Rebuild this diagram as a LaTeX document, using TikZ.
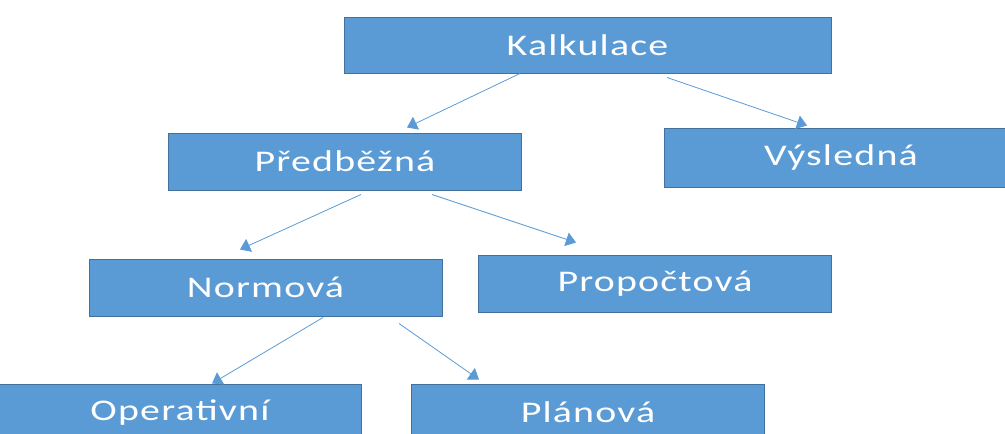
\documentclass[tikz,border=0pt]{standalone}
\usepackage{fontspec}
\newfontfamily\boxfont[FakeStretch=1.33,LetterSpace=4]{Carlito}
\usetikzlibrary{arrows.meta}
\definecolor{boxfill}{HTML}{5B9BD5}
\definecolor{boxline}{HTML}{41719C}
\definecolor{arrowc}{HTML}{5B9BD5}
\tikzset{
  box/.style={draw=boxline, line width=1pt, fill=boxfill, text=white,
    font=\boxfont\fontsize{30}{36}\selectfont, inner sep=0pt,
    minimum width=353pt, minimum height=57pt, anchor=center},
  arr/.style={draw=arrowc, line width=0.8pt,
    -{Triangle[length=10pt,width=14pt]}},
}
\begin{document}
\begin{tikzpicture}[x=1pt,y=-1pt]
\useasboundingbox (0,0) rectangle (1005,434);
\clip (0,0) rectangle (1005,434);
% hierarchy of costing types
\node[box, minimum width=487pt, minimum height=56pt] (kalk) at (587.5,45) {Kalkulace};
\node[box] (pred) at (345,161.5) {Předběžná};
\node[box, minimum height=59pt] (vys) at (841,157.5) {Výsledná};
\node[box] (norm) at (265.5,287.5) {Normová};
\node[box] (prop) at (655,283.5) {Propočtová};
\node[box, minimum width=362pt] (oper) at (180,412.5) {Operativní};
\node[box] (plan) at (588,412.5) {Plánová};
% connectors
\draw[arr] ([xshift=-67.5pt]kalk.south) -- ([xshift=62pt,yshift=5pt]pred.north);
\draw[arr] ([xshift=79.5pt,yshift=-4pt]kalk.south) -- ([xshift=-34pt,yshift=2pt]vys.north);
\draw[arr] ([xshift=16pt,yshift=-4pt]pred.south) -- ([xshift=-25.5pt,yshift=9pt]norm.north);
\draw[arr] ([xshift=87pt,yshift=-4pt]pred.south) -- ([xshift=-79pt,yshift=12pt]prop.north);
\draw[arr] ([xshift=57.5pt,yshift=-1pt]norm.south) -- ([xshift=32pt]oper.north);
\draw[arr] ([xshift=133.5pt,yshift=-7pt]norm.south) -- ([xshift=-109pt,yshift=4pt]plan.north);
\end{tikzpicture}
\end{document}
